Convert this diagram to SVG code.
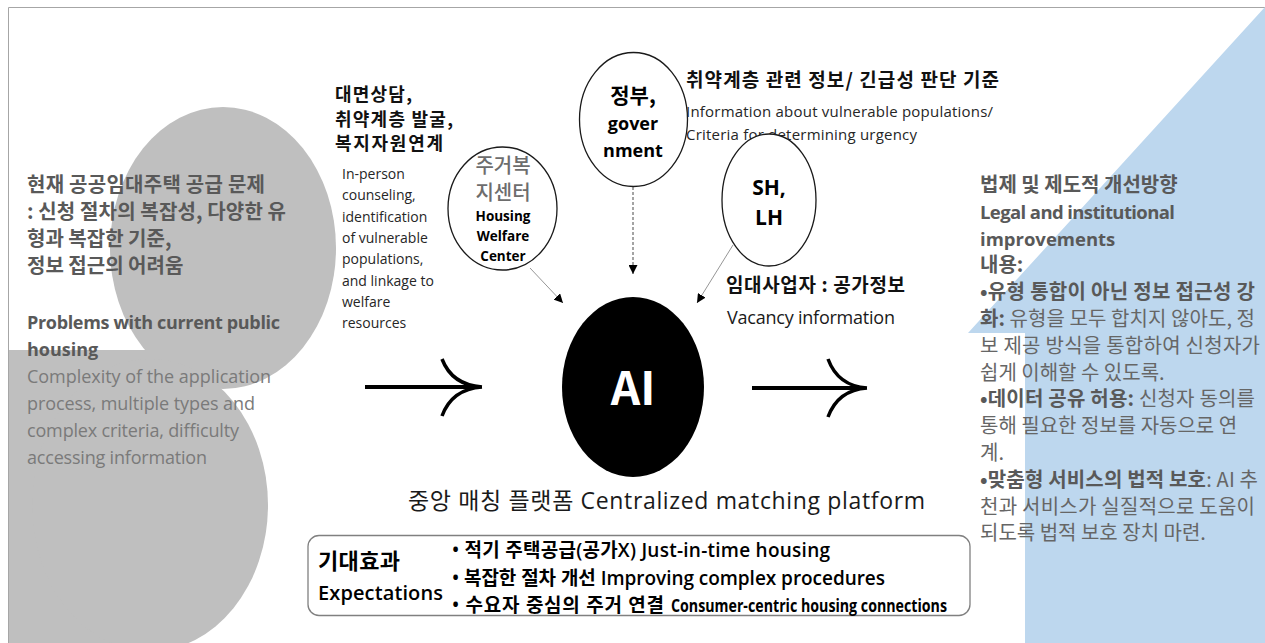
<svg xmlns="http://www.w3.org/2000/svg" width="1265" height="643" viewBox="0 0 1265 643">
<defs>
<style>
text{font-family:"Open Sans","Noto Sans CJK KR",sans-serif;}
.kr{font-family:"Noto Sans CJK KR","Open Sans",sans-serif;}
.lgb{font-size:20px;font-weight:700;fill:#595959;}
.leb{font-size:18px;font-weight:700;fill:#595959;}
.ler{font-size:18px;font-weight:400;fill:#7a7a7a;}
.mkb{font-size:18px;font-weight:700;fill:#111;}
.men{font-size:14px;fill:#262626;}
.rb{font-size:20px;font-weight:700;fill:#595959;}
.rr{font-weight:400;fill:#666;}
.circ{fill:#fff;stroke:#1a1a1a;stroke-width:1.3;}
.conn{stroke:#8a8a8a;stroke-width:0.9;fill:none;}
.big{stroke:#000;fill:none;stroke-linecap:butt;}
.bx{font-size:19px;font-weight:600;fill:#000;}
</style>
<marker id="ah" viewBox="0 0 10 10" refX="10" refY="5" markerWidth="9" markerHeight="9" markerUnits="userSpaceOnUse" orient="auto">
<path d="M0,0 L10,5 L0,10 z" fill="#000"/>
</marker>
</defs>
<rect width="1265" height="643" fill="#fff"/>
<!-- background shapes -->
<g id="background">
<path d="M8.5,643 V7.5 H1265" fill="none" stroke="#a6a6a6" stroke-width="1"/>
<ellipse cx="223" cy="248" rx="113" ry="141" fill="#bfbfbf"/>
<rect x="9" y="350" width="150" height="293" fill="#bfbfbf"/>
<ellipse cx="150" cy="505" rx="118" ry="146" fill="#bfbfbf"/>
<polygon points="1265,7 968,333 1025,333 1025,643 1265,643" fill="#bdd7ee"/>
</g>
<!-- left text block -->
<g id="problems">
<text class="lgb kr" x="27" y="192" textLength="238">현재 공공임대주택 공급 문제</text>
<text class="lgb kr" x="27" y="219" textLength="259">: 신청 절차의 복잡성, 다양한 유</text>
<text class="lgb kr" x="27" y="246">형과 복잡한 기준,</text>
<text class="lgb kr" x="27" y="273">정보 접근의 어려움</text>
<text class="leb" x="27" y="329" textLength="253">Problems with current public</text>
<text class="leb" x="27" y="356">housing</text>
<text class="ler" x="27" y="383" textLength="244">Complexity of the application</text>
<text class="ler" x="27" y="410" textLength="228">process, multiple types and</text>
<text class="ler" x="27" y="437" textLength="212">complex criteria, difficulty</text>
<text class="ler" x="27" y="464" textLength="180">accessing information</text>
</g>
<g id="counseling">
<text class="mkb kr" x="335" y="101" textLength="77">대면상담,</text>
<text class="mkb kr" x="335" y="125.5" textLength="118">취약계층 발굴,</text>
<text class="mkb kr" x="335" y="150" textLength="108">복지자원연계</text>
<text class="men" x="342" y="179">In-person</text>
<text class="men" x="342" y="200">counseling,</text>
<text class="men" x="342" y="222">identification</text>
<text class="men" x="342" y="243">of vulnerable</text>
<text class="men" x="342" y="264">populations,</text>
<text class="men" x="342" y="286">and linkage to</text>
<text class="men" x="342" y="307">welfare</text>
<text class="men" x="342" y="328">resources</text>
</g>
<g id="node-housing">
<ellipse class="circ" cx="502.5" cy="208.5" rx="54.5" ry="61.5"/>
<text class="kr" x="503" y="173" text-anchor="middle" font-size="20" font-weight="500" fill="#6d6d6d">주거복</text>
<text class="kr" x="503" y="200" text-anchor="middle" font-size="20" font-weight="500" fill="#6d6d6d">지센터</text>
<text x="503" y="221" text-anchor="middle" font-size="13.5" font-weight="700" fill="#000">Housing</text>
<text x="503" y="241" text-anchor="middle" font-size="13.5" font-weight="700" fill="#000">Welfare</text>
<text x="503" y="261" text-anchor="middle" font-size="13.5" font-weight="700" fill="#000">Center</text>
</g>
<g id="node-government">
<ellipse class="circ" cx="633.5" cy="119.5" rx="54" ry="67"/>
<text class="kr" x="633" y="103" text-anchor="middle" font-size="21" font-weight="700" fill="#000">정부,</text>
<text x="633" y="130" text-anchor="middle" font-size="18" font-weight="700" fill="#000">gover</text>
<text x="633" y="157" text-anchor="middle" font-size="18" font-weight="700" fill="#000">nment</text>
</g>
<g id="gov-info">
<text class="mkb kr" x="686" y="87" style="font-size:19px" textLength="313">취약계층 관련 정보/ 긴급성 판단 기준</text>
<text x="686" y="117" font-size="15" fill="#262626" textLength="307">Information about vulnerable populations/</text>
<text x="686" y="140" font-size="15" fill="#262626" textLength="231">Criteria for determining urgency</text>
</g>
<g id="node-shlh">
<ellipse class="circ" cx="769" cy="200" rx="47" ry="66"/>
<text x="769" y="195" text-anchor="middle" font-size="21" font-weight="700" fill="#000">SH,</text>
<text x="769" y="225" text-anchor="middle" font-size="21" font-weight="700" fill="#000">LH</text>
</g>
<g id="shlh-info">
<text class="mkb kr" x="726" y="292" style="font-size:19px" textLength="179">임대사업자 : 공가정보</text>
<text x="727" y="324" font-size="18" fill="#1a1a1a" textLength="168">Vacancy information</text>
</g>
<g id="node-ai">
<ellipse cx="633" cy="387" rx="71" ry="90" fill="#000"/>
<text class="kr" x="633" y="405" text-anchor="middle" font-size="46" font-weight="700" fill="#fff">AI</text>
</g>
<g id="platform-label">
<text x="408" y="509" font-size="23" fill="#1a1a1a" textLength="517">중앙 매칭 플랫폼 Centralized matching platform</text>
</g>
<g id="improvements">
<text class="rb kr" x="980" y="192">법제 및 제도적 개선방향</text>
<text class="rb" x="980" y="218.8" style="font-size:18.5px" textLength="195">Legal and institutional</text>
<text class="rb" x="980" y="245.6" style="font-size:18.5px">improvements</text>
<text class="rb kr" x="980" y="272.4">내용:</text>
<text class="rb kr" x="980" y="299.2" textLength="275">•유형 통합이 아닌 정보 접근성 강</text>
<text class="rb kr" x="980" y="326" textLength="275">화:<tspan class="rr"> 유형을 모두 합치지 않아도, 정</tspan></text>
<text class="rb kr rr" x="980" y="352.8" textLength="280">보 제공 방식을 통합하여 신청자가</text>
<text class="rb kr rr" x="980" y="379.6">쉽게 이해할 수 있도록.</text>
<text class="rb kr" x="980" y="406.4" textLength="275">•데이터 공유 허용:<tspan class="rr"> 신청자 동의를</tspan></text>
<text class="rb kr rr" x="980" y="433.2">통해 필요한 정보를 자동으로 연</text>
<text class="rb kr rr" x="980" y="460">계.</text>
<text class="rb kr" x="980" y="486.8" textLength="278">•맞춤형 서비스의 법적 보호<tspan class="rr">: AI 추</tspan></text>
<text class="rb kr rr" x="980" y="513.6" textLength="275">천과 서비스가 실질적으로 도움이</text>
<text class="rb kr rr" x="980" y="540.4">되도록 법적 보호 장치 마련.</text>
</g>
<g id="expectations">
<rect x="308" y="535.5" width="662" height="80" rx="11" fill="#fff" stroke="#808080" stroke-width="1.3"/>
<text class="kr" x="318" y="569" font-size="22" font-weight="700" fill="#000" textLength="82">기대효과</text>
<text x="318" y="600" font-size="20" font-weight="600" fill="#000" textLength="125">Expectations</text>
<text class="bx" x="452" y="557" textLength="378">• 적기 주택공급(공가X) Just-in-time housing</text>
<text class="bx" x="452" y="585" textLength="433">• 복잡한 절차 개선 Improving complex procedures</text>
<text class="bx" x="452" y="612" textLength="212">• 수요자 중심의 주거 연결</text>
<text x="671" y="612" font-size="17" font-weight="700" fill="#000" textLength="276" lengthAdjust="spacingAndGlyphs">Consumer-centric housing connections</text>
</g>
<g id="connectors">
<path class="big" d="M365,387 H480" stroke-width="4"/>
<path class="big" d="M442,359 Q452,385 482,387 M442,416 Q452,389 482,387" stroke-width="3.5"/>
<path class="big" d="M752,388 H865" stroke-width="4"/>
<path class="big" d="M828,359 Q838,386 867,388 M828,417 Q838,390 867,388" stroke-width="3.5"/>
<path class="conn" d="M530,268 L563,303" marker-end="url(#ah)"/>
<path d="M633,187 L633,274" stroke="#333" stroke-width="0.9" stroke-dasharray="3 2" fill="none" marker-end="url(#ah)"/>
<path class="conn" d="M733,245 L697,303" marker-end="url(#ah)"/>
</g>
</svg>
